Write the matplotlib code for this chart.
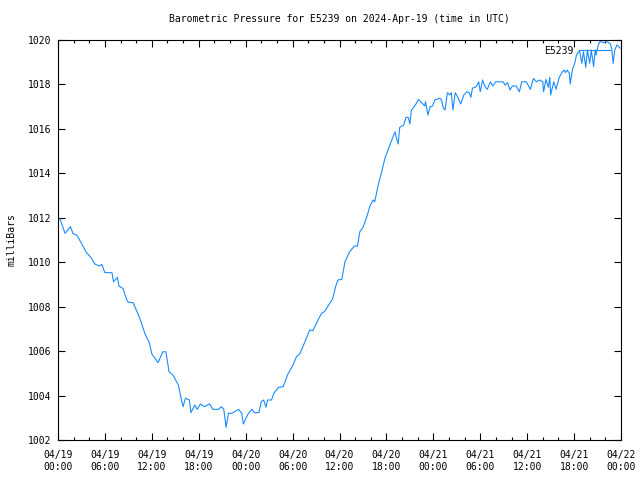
#!/usr/bin/env python3
"""Barometric pressure trace for station E5239, gnuplot-like look."""
import numpy as np
import matplotlib
matplotlib.use('Agg')
import matplotlib.pyplot as plt
from matplotlib.ticker import MultipleLocator

# hours since 2024-04-19 00:00 UTC
hours = [0.26, 0.9, 1.6, 1.9, 2.4, 3.0, 3.6, 4.2, 4.7, 5.3, 5.6, 6.0, 6.9, 7.1,
         7.6, 7.8, 8.3, 8.8, 9.0, 9.6, 10.3, 10.8, 11.1, 11.7, 12.0, 12.8, 13.4,
         13.8, 14.2, 14.7, 15.4, 15.7, 16.0, 16.3, 16.8, 17.0, 17.5, 17.8, 18.2,
         18.7, 19.4, 19.8, 20.5, 20.9, 21.2, 21.5, 21.8, 22.2, 23.1, 23.5, 23.7,
         24.3, 24.8, 25.1, 25.7, 26.0, 26.3, 26.6, 26.8, 27.3, 27.6, 28.2, 28.8,
         29.4, 30.0, 30.5, 30.9, 31.4, 32.2, 32.6, 33.3, 33.7, 34.1, 34.6, 35.1,
         35.5, 35.8, 36.3, 36.7, 37.3, 37.9, 38.3, 38.6, 39.0, 39.5, 39.9, 40.3,
         40.5, 41.0, 41.4, 41.8, 42.2, 42.6, 43.1, 43.3, 43.5, 43.7, 44.2, 44.5,
         44.8, 45.0, 45.2, 45.7, 46.1, 46.5, 46.9, 47.0, 47.3, 47.6, 47.9, 48.2,
         48.8, 49.0, 49.3, 49.5, 49.8, 50.1, 50.3, 50.5, 50.8, 51.1, 51.5, 51.9,
         52.3, 52.6, 52.8, 53.0, 53.5, 53.8, 54.0, 54.3, 54.6, 54.9, 55.3, 55.6,
         56.0, 56.9, 57.2, 57.5, 57.8, 58.1, 58.6, 59.0, 59.3, 59.9, 60.4, 60.8,
         61.2, 61.6, 62.0, 62.1, 62.4, 62.7, 62.9, 63.0, 63.4, 63.7, 63.8, 64.1,
         64.4, 64.7, 64.9, 65.1, 65.4, 65.5, 65.8, 66.1, 66.3, 66.7, 67.0, 67.2,
         67.5, 67.7, 68.0, 68.2, 68.5, 68.7, 68.8, 69.1, 69.3, 69.8, 70.1, 70.6,
         70.8, 71.0, 71.2, 71.5, 71.9]

pressure = [1011.94, 1011.3, 1011.6, 1011.3, 1011.22, 1010.85, 1010.45, 1010.22,
            1009.92, 1009.83, 1009.9, 1009.53, 1009.53, 1009.12, 1009.32, 1008.93,
            1008.82, 1008.3, 1008.2, 1008.18, 1007.62, 1007.13, 1006.8, 1006.35,
            1005.87, 1005.48, 1005.97, 1005.97, 1005.07, 1004.92, 1004.47, 1003.95,
            1003.5, 1003.88, 1003.8, 1003.23, 1003.57, 1003.38, 1003.62, 1003.5,
            1003.62, 1003.38, 1003.38, 1003.5, 1003.38, 1002.57, 1003.2, 1003.2,
            1003.38, 1003.2, 1002.72, 1003.17, 1003.38, 1003.23, 1003.23, 1003.73,
            1003.8, 1003.47, 1003.8, 1003.8, 1004.1, 1004.37, 1004.4, 1004.97,
            1005.33, 1005.75, 1005.87, 1006.27, 1006.95, 1006.92, 1007.43, 1007.7,
            1007.78, 1008.07, 1008.33, 1008.9, 1009.2, 1009.23, 1010.02, 1010.47,
            1010.73, 1010.73, 1011.37, 1011.57, 1012.05, 1012.53, 1012.8, 1012.72,
            1013.55, 1014.07, 1014.67, 1015.05, 1015.42, 1015.87, 1015.57, 1015.32,
            1016.07, 1016.17, 1016.52, 1016.52, 1016.22, 1016.85, 1017.07, 1017.33,
            1017.18, 1017.03, 1017.23, 1016.62, 1017.0, 1017.03, 1017.3, 1017.38,
            1017.33, 1016.92, 1016.85, 1017.63, 1017.53, 1017.63, 1016.85, 1017.63,
            1017.45, 1017.12, 1017.53, 1017.67, 1017.63, 1017.42, 1017.83, 1017.9,
            1018.12, 1017.67, 1018.2, 1017.9, 1017.78, 1018.12, 1017.93, 1018.12,
            1018.12, 1017.97, 1018.08, 1017.75, 1017.93, 1017.93, 1017.67, 1018.12,
            1018.12, 1017.78, 1018.27, 1018.12, 1018.2, 1018.12, 1017.67, 1018.23,
            1017.87, 1018.32, 1017.53, 1018.12, 1017.78, 1017.93, 1018.32, 1018.5,
            1018.65, 1018.53, 1018.65, 1018.5, 1018.02, 1018.68, 1018.98, 1019.32,
            1019.52, 1018.95, 1019.47, 1018.77, 1019.55, 1018.95, 1019.55, 1018.8,
            1019.55, 1019.32, 1019.78, 1019.93, 1019.88, 1019.93, 1019.85, 1019.63,
            1018.95, 1019.55, 1019.78, 1019.63]

tick_hours = list(range(0, 73, 6))
tick_labels = ['04/19\n00:00', '04/19\n06:00', '04/19\n12:00', '04/19\n18:00',
               '04/20\n00:00', '04/20\n06:00', '04/20\n12:00', '04/20\n18:00',
               '04/21\n00:00', '04/21\n06:00', '04/21\n12:00', '04/21\n18:00',
               '04/22\n00:00']
y_ticks = list(range(1002, 1021, 2))

plt.rcParams['font.family'] = 'DejaVu Sans Mono'
plt.rcParams['font.size'] = 7

fig = plt.figure(figsize=(6.4, 4.8), dpi=100)
ax = fig.add_axes([58 / 640, 40 / 480, 563 / 640, 400 / 480])

ax.plot(hours, pressure, color='#1a8cff', lw=0.8, label='E5239')

ax.set_xlim(0, 72)
ax.set_ylim(1002, 1020)
ax.set_xticks(tick_hours)
ax.set_xticklabels(tick_labels, linespacing=1.3)
ax.xaxis.set_minor_locator(MultipleLocator(2))
ax.set_yticks(y_ticks)
ax.tick_params(which='both', direction='in', top=True, right=True,
               width=0.8, color='black')
ax.tick_params(which='major', length=5)
ax.tick_params(which='minor', length=2.5)
ax.tick_params(axis='x', pad=7)
ax.tick_params(axis='y', pad=5)
for s in ax.spines.values():
    s.set_linewidth(0.8)

ax.set_ylabel('milliBars', labelpad=8)
fig.text(339.5 / 640, 1 - 19 / 480, 'Barometric Pressure for E5239 on 2024-Apr-19 (time in UTC)',
         ha='center', va='center')
ax.legend(loc='upper right', bbox_to_anchor=(1 - 5 / 563, 1), frameon=False,
          markerfirst=False, handlelength=3.2, borderaxespad=0.2,
          handletextpad=0.6, fontsize=7)

plt.savefig('out.png', dpi=100)
plt.close()
